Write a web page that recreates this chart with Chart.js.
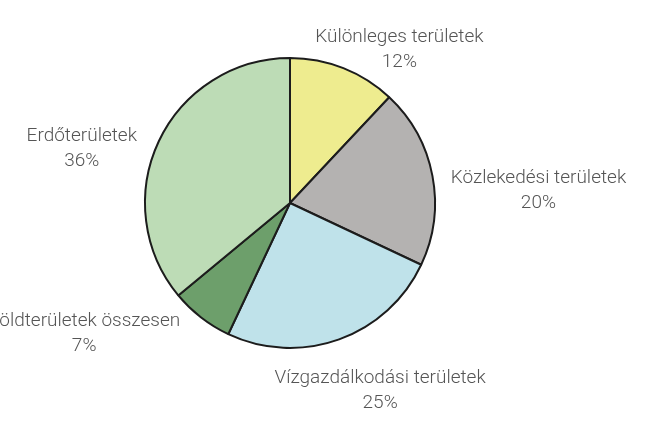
<!DOCTYPE html>
<html lang="hu">
<head>
<meta charset="utf-8">
<title>Területek megoszlása</title>
<script src="https://cdn.jsdelivr.net/npm/chart.js@4.4.1/dist/chart.umd.min.js"></script>
<style>
  html, body { margin: 0; padding: 0; background: #ffffff; }
  #wrap { width: 671px; height: 425px; position: relative; }
</style>
</head>
<body>
<div id="wrap"><canvas id="landChart" width="671" height="425"></canvas></div>
<script>
const categories = [
  "Különleges területek",
  "Közlekedési területek",
  "Vízgazdálkodási területek",
  "Zöldterületek összesen",
  "Erdőterületek"
];
const shares = [12, 20, 25, 7, 36];
const sliceColors = ["#eeec8f", "#b4b2b1", "#bfe2ea", "#6d9f6b", "#bddcb6"];

// label block offset from the slice's outer midpoint, in px
const labelOffsets = [
  [56, -18],
  [106, 15],
  [41, 51],
  [-117, 16],
  [-77, 7]
];

const sliceLabels = {
  id: "sliceLabels",
  afterDatasetsDraw(chart) {
    const ctx = chart.ctx;
    const meta = chart.getDatasetMeta(0);
    ctx.save();
    ctx.font = "300 19px Roboto, sans-serif";
    ctx.fillStyle = "#555555";
    ctx.textAlign = "center";
    ctx.textBaseline = "middle";
    meta.data.forEach((arc, i) => {
      const p = arc.getProps(["x", "y", "startAngle", "endAngle", "outerRadius"], true);
      const mid = (p.startAngle + p.endAngle) / 2;
      const ax = p.x + Math.cos(mid) * p.outerRadius + labelOffsets[i][0];
      const ay = p.y + Math.sin(mid) * p.outerRadius + labelOffsets[i][1];
      ctx.fillText(categories[i], ax, ay - 12.5);
      ctx.fillText(shares[i] + "%", ax, ay + 12.5);
    });
    ctx.restore();
  }
};

new Chart(document.getElementById("landChart"), {
  type: "pie",
  data: {
    labels: categories,
    datasets: [{
      data: shares,
      backgroundColor: sliceColors,
      borderColor: "#1c1c1c",
      borderWidth: 2
    }]
  },
  options: {
    responsive: false,
    animation: false,
    layout: {
      padding: { left: 144, right: 235, top: 57, bottom: 76 }
    },
    plugins: {
      legend: { display: false },
      tooltip: { enabled: false }
    }
  },
  plugins: [sliceLabels]
});
</script>
</body>
</html>
